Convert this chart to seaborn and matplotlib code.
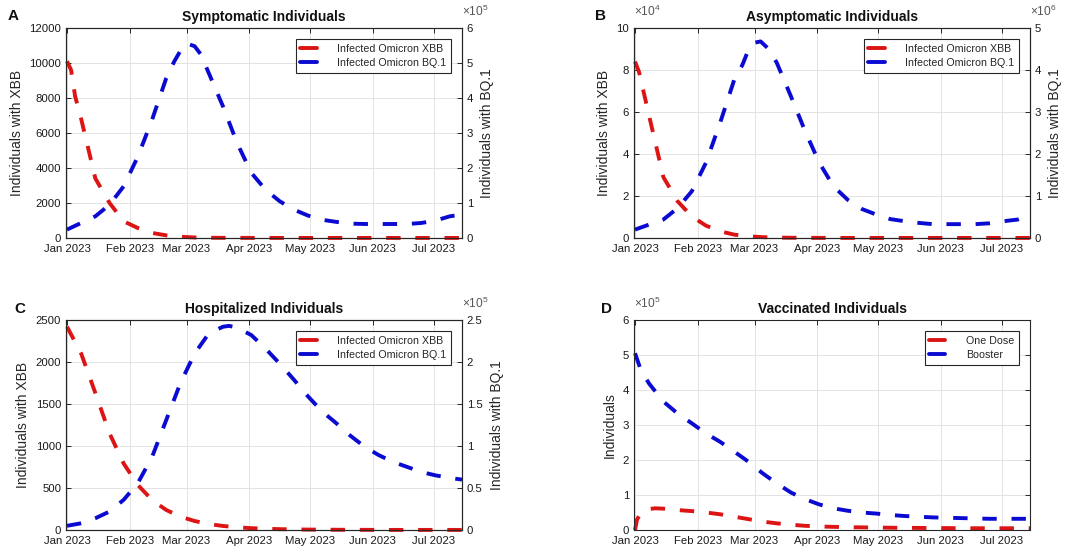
import numpy as np
import pandas as pd
import matplotlib
matplotlib.use("Agg")
import matplotlib.pyplot as plt
import matplotlib.dates as mdates
import matplotlib.transforms as mtrans
from matplotlib.ticker import FuncFormatter, MultipleLocator
from matplotlib.lines import Line2D
import seaborn as sns

# ---------------- data ----------------
start = pd.Timestamp("2023-01-01")
week_days = [0, 7, 14, 21, 28, 35, 42, 49, 56, 63, 70, 77, 84, 91, 98, 105, 112, 119,
             126, 133, 140, 147, 154, 161, 168, 175, 182, 189, 195]

# A: symptomatic
sym_xbb_days = [0, 2, 4, 7, 14, 21, 28, 35, 42, 49, 56, 63, 70, 77, 84, 91, 98, 105, 112,
                119, 126, 133, 140, 147, 154, 161, 168, 175, 182, 189, 195]
sym_xbb = [10100, 9600, 8100, 6800, 3400, 2000, 950, 570, 290, 150, 70, 30, 15, 10, 8, 6,
           5, 5, 4, 4, 4, 4, 4, 4, 4, 4, 4, 4, 4, 4, 4]
sym_bq1_days = [0, 7, 14, 21, 28, 35, 42, 49, 53, 56, 59, 63, 66, 70, 77, 84, 91, 98, 105,
                112, 119, 126, 133, 140, 147, 154, 161, 168, 175, 182, 189, 195]
sym_bq1 = [24000, 43000, 62000, 95000, 148000, 233000, 338000, 457000, 505000, 535000,
           556000, 548000, 525000, 471000, 376000, 271000, 186000, 138000, 105000, 81000,
           64000, 52000, 46000, 41000, 40000, 40000, 40000, 40000, 43000, 50000, 62000,
           67000]

# B: asymptomatic
asy_xbb_days = [0, 2, 7, 14, 21, 28, 35, 42, 49, 56, 63, 70, 77, 84, 91, 98, 105, 112,
                119, 126, 133, 140, 147, 154, 161, 168, 175, 182, 189, 195]
asy_xbb = [84000, 79000, 58000, 29000, 17500, 10300, 5900, 3200, 1600, 800, 400, 200, 120,
           80, 60, 50, 40, 40, 40, 40, 40, 40, 40, 40, 40, 40, 40, 40, 40, 40]
asy_bq1_days = [0, 7, 14, 21, 28, 35, 42, 49, 53, 56, 59, 62, 66, 70, 77, 84, 91, 98, 105,
                112, 119, 126, 133, 140, 147, 154, 161, 168, 175, 182, 189, 195]
asy_bq1 = [0.20e6, 0.32e6, 0.44e6, 0.71e6, 1.11e6, 1.79e6, 2.74e6, 3.77e6, 4.12e6, 4.48e6,
           4.65e6, 4.68e6, 4.50e6, 4.17e6, 3.37e6, 2.54e6, 1.79e6, 1.23e6, 0.91e6, 0.69e6,
           0.56e6, 0.45e6, 0.40e6, 0.36e6, 0.33e6, 0.33e6, 0.33e6, 0.33e6, 0.35e6, 0.40e6,
           0.44e6, 0.54e6]

# C: hospitalized
hos_xbb_days = week_days
hos_xbb = [2420, 2100, 1630, 1150, 790, 535, 357, 238, 159, 107, 71, 48, 32, 22, 15, 10,
           7, 5, 4, 3, 2, 2, 1, 1, 1, 1, 1, 1, 1]
hos_bq1_days = [0, 7, 14, 21, 28, 35, 42, 49, 56, 63, 70, 77, 80, 84, 91, 98, 105, 112,
                119, 126, 133, 140, 147, 154, 161, 168, 175, 182, 189, 195]
hos_bq1 = [5000, 8000, 14000, 22000, 36000, 56000, 87000, 131000, 175000, 210000, 234000,
           242000, 243000, 241000, 232000, 216000, 198000, 179000, 159000, 141000, 127000,
           112000, 99000, 89000, 81000, 75000, 69000, 65000, 62000, 60000]

# D: vaccinated
vac_one_days = [0, 1, 3, 7, 10, 14, 21, 28, 35, 42, 49, 56, 63, 70, 77, 84, 91, 98, 105,
                112, 119, 126, 133, 140, 147, 154, 161, 168, 175, 182, 189, 195]
vac_one = [0, 30000, 50000, 60000, 62000, 61000, 57000, 54000, 50000, 45000, 38000, 31000,
           24000, 19000, 15000, 12000, 10000, 9000, 8000, 7500, 7000, 6500, 6000, 6000,
           5500, 5500, 5000, 5000, 5000, 5000, 5000, 5000]
vac_boost_days = [0, 3, 7, 14, 21, 28, 35, 42, 49, 56, 63, 70, 77, 84, 91, 98, 105, 112,
                  119, 126, 133, 140, 147, 154, 161, 168, 175, 182, 189, 195]
vac_boost = [505000, 455000, 418000, 367000, 333000, 305000, 276000, 252000, 224000,
             195000, 162000, 133000, 107000, 88000, 73000, 62000, 55000, 50000, 47000,
             43000, 40000, 38000, 36000, 35000, 34000, 33000, 32000, 32000, 32000, 32000]

panels = [
    dict(letter="A", title="Symptomatic Individuals",
         left=(sym_xbb_days, sym_xbb), right=(sym_bq1_days, sym_bq1),
         lmax=12000, lstep=2000, lscale=1, lexp=None,
         rmax=6e5, rstep=1e5, rscale=1e5, rexp=5,
         labels=("Infected Omicron XBB", "Infected Omicron BQ.1")),
    dict(letter="B", title="Asymptomatic Individuals",
         left=(asy_xbb_days, asy_xbb), right=(asy_bq1_days, asy_bq1),
         lmax=10e4, lstep=2e4, lscale=1e4, lexp=4,
         rmax=5e6, rstep=1e6, rscale=1e6, rexp=6,
         labels=("Infected Omicron XBB", "Infected Omicron BQ.1")),
    dict(letter="C", title="Hospitalized Individuals",
         left=(hos_xbb_days, hos_xbb), right=(hos_bq1_days, hos_bq1),
         lmax=2500, lstep=500, lscale=1, lexp=None,
         rmax=2.5e5, rstep=0.5e5, rscale=1e5, rexp=5,
         labels=("Infected Omicron XBB", "Infected Omicron BQ.1")),
    dict(letter="D", title="Vaccinated Individuals",
         left=(vac_one_days, vac_one), right=(vac_boost_days, vac_boost),
         lmax=6e5, lstep=1e5, lscale=1e5, lexp=5,
         rmax=None, labels=("One Dose", "Booster")),
]

# ---------------- style ----------------
sns.set_style("white")
plt.rcParams["font.family"] = ["Liberation Sans", "DejaVu Sans"]
plt.rcParams["mathtext.fontset"] = "custom"
plt.rcParams["mathtext.rm"] = "Liberation Sans"
plt.rcParams["mathtext.it"] = "Liberation Sans"

RED = "#dc1414"
BLUE = "#0a0ad2"
AX = "#262626"
DASH = (0, (3.7, 3.8))
LW = 2.8

fig = plt.figure(figsize=(10.78, 5.54), dpi=100)
W, H = 1078, 554
boxes = {"A": (66, 28), "B": (634, 28), "C": (66, 320), "D": (634, 320)}
letter_pos = {"A": (13, 16), "B": (600, 16), "C": (20, 309), "D": (607, 309)}
aw, ah = 396, 210

xmin = pd.Timestamp("2022-12-31 12:00")
xmax = pd.Timestamp("2023-07-15 00:00")


def to_dates(days):
    return start + pd.to_timedelta(days, unit="D")


def fmt_scaled(scale):
    def f(v, pos):
        s = v / scale
        if abs(s - round(s)) < 1e-9:
            return f"{int(round(s))}"
        return f"{s:g}"
    return FuncFormatter(f)


def style_axis(a):
    for sp in a.spines.values():
        sp.set_color(AX)
        sp.set_linewidth(0.8)
    a.tick_params(direction="in", length=3.5, width=0.7, colors=AX, labelsize=8.2,
                  labelcolor="#1a1a1a")


def exp_text(a, xfrac, exp, ha):
    tr = mtrans.offset_copy(a.transAxes, fig=fig, x=0, y=12, units="points")
    a.text(xfrac, 1.0, r"$\times10^{%d}$" % exp, transform=tr, ha=ha, va="center",
           fontsize=8.6, color="#555555")


for p in panels:
    x0, y0 = boxes[p["letter"]]
    ax = fig.add_axes([x0 / W, 1 - (y0 + ah) / H, aw / W, ah / H])
    ax.set_facecolor("white")
    handles = []
    ld, lv = p["left"]
    sns.lineplot(x=to_dates(ld), y=lv, ax=ax, color=RED, linewidth=LW,
                 linestyle=DASH, legend=False, clip_on=False)
    handles.append(ax.lines[-1])
    ax.set_ylim(0, p["lmax"])
    ax.yaxis.set_major_locator(MultipleLocator(p["lstep"]))
    ax.yaxis.set_major_formatter(fmt_scaled(p["lscale"]))
    ax.grid(True, color="#e3e3e3", linewidth=0.7)
    ax.set_axisbelow(True)
    ax.set_xlim(xmin, xmax)
    ax.xaxis.set_major_locator(mdates.MonthLocator())
    ax.xaxis.set_major_formatter(mdates.DateFormatter("%b %Y"))
    style_axis(ax)
    ax.tick_params(axis="x", pad=4, top=True)
    if p["lexp"]:
        exp_text(ax, 0.0, p["lexp"], "left")

    rd, rv = p["right"]
    if p["rmax"] is not None:
        ax2 = ax.twinx()
        sns.lineplot(x=to_dates(rd), y=rv, ax=ax2, color=BLUE, linewidth=LW,
                     linestyle=DASH, legend=False, clip_on=False)
        handles.append(ax2.lines[-1])
        ax2.set_ylim(0, p["rmax"])
        ax2.yaxis.set_major_locator(MultipleLocator(p["rstep"]))
        ax2.yaxis.set_major_formatter(fmt_scaled(p["rscale"]))
        ax2.set_xlim(xmin, xmax)
        style_axis(ax2)
        ax2.grid(False)
        ax2.set_ylabel("Individuals with BQ.1", fontsize=10, labelpad=5)
        ax2.set_xlabel("")
        exp_text(ax2, 1.0, p["rexp"], "left")
        ax.set_ylabel("Individuals with XBB", fontsize=10, labelpad=4)
        leg_ax = ax2
    else:
        sns.lineplot(x=to_dates(rd), y=rv, ax=ax, color=BLUE, linewidth=LW,
                     linestyle=DASH, legend=False, clip_on=False)
        handles.append(ax.lines[-1])
        ax.set_ylabel("Individuals", fontsize=10, labelpad=4)
        ax.tick_params(axis="y", right=True)
        leg_ax = ax
    ax.set_xlabel("")

    proxies = [Line2D([0], [0], color=h.get_color(), linewidth=LW, linestyle="-")
               for h in handles]
    leg = leg_ax.legend(proxies, list(p["labels"]), loc="upper right", fontsize=7.7,
                        frameon=True, fancybox=False, borderaxespad=1.05,
                        handlelength=1.5, handletextpad=1.9, borderpad=0.45,
                        labelspacing=0.35)
    leg.get_frame().set_edgecolor(AX)
    leg.get_frame().set_linewidth(0.8)
    leg.get_frame().set_alpha(1)
    leg.set_zorder(10)

    ax.set_title(p["title"], fontsize=10, fontweight="bold", pad=5, color="#111111")
    lx, ly = letter_pos[p["letter"]]
    fig.text(lx / W, 1 - ly / H, p["letter"], fontsize=11, fontweight="bold",
             ha="center", va="center", color="#111111")

fig.savefig("out.png", dpi=100, facecolor="white")
